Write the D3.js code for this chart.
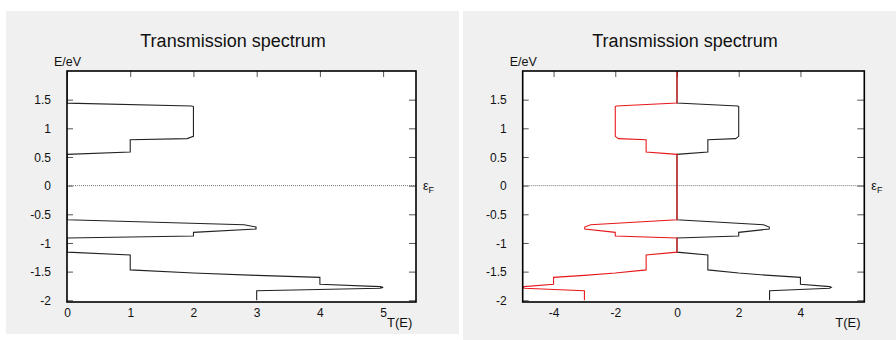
<!DOCTYPE html>
<meta charset="utf-8">
<style>
body { margin: 0; background: #fff; }
text { font-family: "Liberation Sans", Arial, sans-serif; fill: #111; }
.tick text { font-size: 12px; }
</style>
<svg width="896" height="340"></svg>
<script src="https://d3js.org/d3.v7.min.js"></script>
<script>

// transmission T(E), from bottom (E=-2) to top (E=2)
var energy = [-2.0, -1.835, -1.79, -1.775, -1.762, -1.722, -1.6, -1.566, -1.525, -1.47, -1.21, -1.16,
  -0.914, -0.88, -0.815, -0.757, -0.722, -0.681, -0.594,
  0.546, 0.587, 0.80, 0.82, 0.86, 1.38, 1.39, 1.44, 2.0]
var trans = [3, 3, 4.95, 5, 4.95, 4, 4, 3, 2, 1, 1, 0,
  0, 2, 2, 2.99, 2.99, 2.8, 0,
  0, 1, 1, 1.9, 2, 2, 1.97, 0, 0]

var yTicks = [-2, -1.5, -1, -0.5, 0, 0.5, 1, 1.5]
var leftXTicks = [0, 1, 2, 3, 4, 5]
var rightXTicks = [-4, -2, 0, 2, 4]

var pts = energy.map(function(e, i) { return {e: e, t: trans[i]} })
var fmt = function(d) { return String(d) }

var svg = d3.select("svg")

// grey panel backgrounds
svg.append("rect").attr("x", 6).attr("y", 11).attr("width", 453).attr("height", 323).attr("fill", "#f0f0f0")
svg.append("rect").attr("x", 463).attr("y", 11).attr("width", 433).attr("height", 329).attr("fill", "#f0f0f0")

function panel(o) {
  var x = d3.scaleLinear().domain(o.xdom).range([o.left, o.right])
  var y = d3.scaleLinear().domain([-2.03, 2.0]).range([302, 71])
  var g = svg.append("g")

  g.append("rect").attr("x", o.left).attr("y", 71)
    .attr("width", o.right - o.left).attr("height", 231).attr("fill", "#fff")

  // Fermi level
  g.append("line").attr("x1", o.left).attr("x2", o.right)
    .attr("y1", y(0)).attr("y2", y(0))
    .attr("stroke", "#777").attr("stroke-dasharray", "1,1")

  // inside ticks: left, right, top
  var yl = g.append("g").attr("class", "tick")
    .attr("transform", "translate(" + o.left + ",0)")
    .call(d3.axisLeft(y).tickValues(yTicks).tickSize(-6).tickPadding(16).tickFormat(fmt))
  var yr = g.append("g")
    .attr("transform", "translate(" + o.right + ",0)")
    .call(d3.axisRight(y).tickValues(yTicks).tickSize(-7).tickFormat(""))
  var xt = g.append("g")
    .attr("transform", "translate(0,71)")
    .call(d3.axisTop(x).tickValues(o.ticks).tickSize(-6).tickFormat(""))
  var xb = g.append("g").attr("class", "tick")
    .attr("transform", "translate(0,302)")
    .call(d3.axisBottom(x).tickValues(o.ticks).tickSize(0).tickPadding(6).tickFormat(fmt))
  ;[yl, yr, xt, xb].forEach(function(a) {
    a.select(".domain").remove()
    a.selectAll("line").attr("stroke", "#555")
    a.selectAll("text").attr("fill", "#111").style("font-family", "'Liberation Sans', Arial, sans-serif").style("font-size", "12px")
  })
  yl.selectAll("text").attr("dy", "0.35em")

  var line = d3.line().x(function(d) { return x(d.t) }).y(function(d) { return y(d.e) })
  var clip = "clip" + o.left
  g.append("clipPath").attr("id", clip).append("rect")
    .attr("x", o.left).attr("y", 71).attr("width", o.right - o.left).attr("height", 231)

  g.append("path").datum(pts).attr("d", line).attr("clip-path", "url(#" + clip + ")")
    .attr("fill", "none").attr("stroke", "#222").attr("stroke-width", 1.1)
  if (o.mirror) {
    var neg = pts.map(function(d) { return {e: d.e, t: -d.t} })
    g.append("path").datum(neg).attr("d", line).attr("clip-path", "url(#" + clip + ")")
      .attr("fill", "none").attr("stroke", "#e8191c").attr("stroke-width", 1.1)
  }

  g.append("rect").attr("x", o.left).attr("y", 71)
    .attr("width", o.right - o.left).attr("height", 231)
    .attr("fill", "none").attr("stroke", "#000").attr("stroke-width", 1.6)

  g.append("text").attr("x", o.titleX).attr("y", 47).attr("text-anchor", "middle")
    .style("font-size", "18px").text("Transmission spectrum")
  g.append("text").attr("x", o.left - 13).attr("y", 65.5)
    .style("font-size", "12.5px").text("E/eV")
  g.append("text").attr("x", o.right - 29).attr("y", 327)
    .style("font-size", "13px").text("T(E)")
  var ef = g.append("text").attr("x", o.right + 7).attr("y", y(0) + 4.5).style("font-size", "12.5px")
  ef.append("tspan").text("ε")
  ef.append("tspan").attr("dy", 3).style("font-size", "9px").text("F")
}

panel({left: 67, right: 416, xdom: [0, 5.52], ticks: leftXTicks, titleX: 233, mirror: false})
panel({left: 522.7, right: 864.3, xdom: [-5, 6.07], ticks: rightXTicks, titleX: 685, mirror: true})

</script>
